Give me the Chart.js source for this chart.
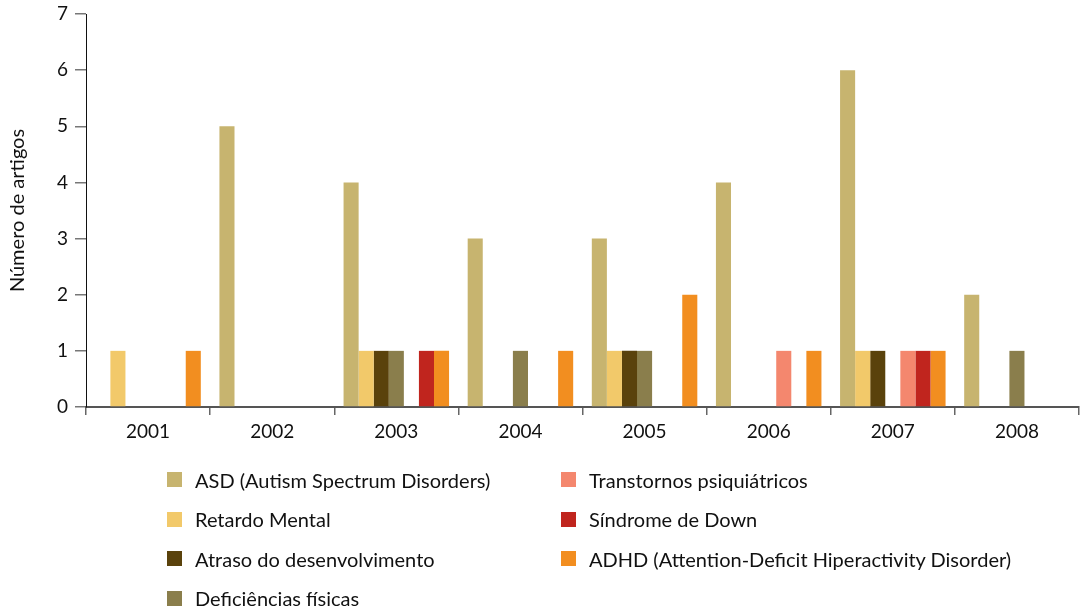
<!DOCTYPE html>
<html>
<head>
<meta charset="utf-8">
<script src="https://cdn.jsdelivr.net/npm/chart.js@4/dist/chart.umd.min.js"></script>
<style>
  html, body { margin: 0; padding: 0; background: #fff; overflow: hidden; }
  #wrap { position: relative; width: 1083px; height: 608px; font-family: Lato, "Open Sans", sans-serif; overflow: hidden; }
  #legend { position: absolute; left: 167px; top: 460px; display: flex; }
  #legend .col { width: 394px; }
  #legend .item { height: 39.5px; display: flex; align-items: center; font-size: 20px; color: #111; white-space: nowrap; }
  #legend .box { width: 15px; height: 15px; margin-right: 13px; flex: none; }
</style>
</head>
<body>
<div id="wrap">
  <canvas id="chart" width="1083" height="608"></canvas>
  <div id="legend"></div>
</div>
<script>
var years = ["2001", "2002", "2003", "2004", "2005", "2006", "2007", "2008"];
var yTicks = [0, 1, 2, 3, 4, 5, 6, 7];

var asd = [0, 5, 4, 3, 3, 4, 6, 2];
var retardo = [1, 0, 1, 0, 1, 0, 1, 0];
var atraso = [0, 0, 1, 0, 1, 0, 1, 0];
var deficiencias = [0, 0, 1, 1, 1, 0, 0, 1];
var transtornos = [0, 0, 0, 0, 0, 1, 1, 0];
var sindrome = [0, 0, 1, 0, 0, 0, 1, 0];
var adhd = [1, 0, 1, 1, 2, 1, 1, 0];

var labels = [
  "ASD (Autism Spectrum Disorders)",
  "Retardo Mental",
  "Atraso do desenvolvimento",
  "Deficiências físicas",
  "Transtornos psiquiátricos",
  "Síndrome de Down",
  "ADHD (Attention-Deficit Hiperactivity Disorder)"
];
var colors = ["#c7b46f", "#f2c96a", "#5a420c", "#8a7e4c", "#f4876e", "#c0251e", "#f28e20"];
var series = [asd, retardo, atraso, deficiencias, transtornos, sindrome, adhd];

var datasets = series.map(function (values, i) {
  return {
    label: labels[i],
    data: values,
    backgroundColor: colors[i],
    borderWidth: 0,
    categoryPercentage: 0.85,
    barPercentage: 1.0
  };
});

var font = "Lato, 'Open Sans', sans-serif";

var ctx = document.getElementById("chart").getContext("2d");
var chart = new Chart(ctx, {
  type: "bar",
  data: { labels: years, datasets: datasets },
  options: {
    responsive: false,
    animation: false,
    layout: { padding: { top: 14, right: 4, left: 0, bottom: 0 } },
    plugins: { legend: { display: false }, tooltip: { enabled: false } },
    scales: {
      x: {
        offset: true,
        grid: { offset: true, drawOnChartArea: false, tickLength: 8, color: "#666", lineWidth: 1.5 },
        border: { color: "#555", width: 2 },
        ticks: { color: "#111", font: { family: font, size: 19 }, padding: 5 },
        afterFit: function (scale) { scale.height = 201; }
      },
      y: {
        min: 0,
        max: 7,
        afterBuildTicks: function (scale) {
          scale.ticks = yTicks.map(function (v) { return { value: v }; });
        },
        grid: { drawOnChartArea: false, tickLength: 11, color: "#777", lineWidth: 1.5 },
        border: { color: "#111", width: 1 },
        ticks: { color: "#111", font: { family: font, size: 19 }, padding: 7 },
        title: { display: true, text: "Número de artigos", color: "#111", font: { family: font, size: 20 }, padding: { top: 6, bottom: 4 } },
        afterFit: function (scale) {
          scale.width = 86;
          scale.paddingTop = 0;
        }
      }
    }
  }
});

// legend in two columns, like the original
var legend = document.getElementById("legend");
[[0, 1, 2, 3], [4, 5, 6]].forEach(function (idx) {
  var col = document.createElement("div");
  col.className = "col";
  idx.forEach(function (i) {
    var ds = chart.data.datasets[i];
    var item = document.createElement("div");
    item.className = "item";
    var box = document.createElement("span");
    box.className = "box";
    box.style.background = ds.backgroundColor;
    var txt = document.createElement("span");
    txt.textContent = ds.label;
    item.appendChild(box);
    item.appendChild(txt);
    col.appendChild(item);
  });
  legend.appendChild(col);
});
</script>
</body>
</html>
